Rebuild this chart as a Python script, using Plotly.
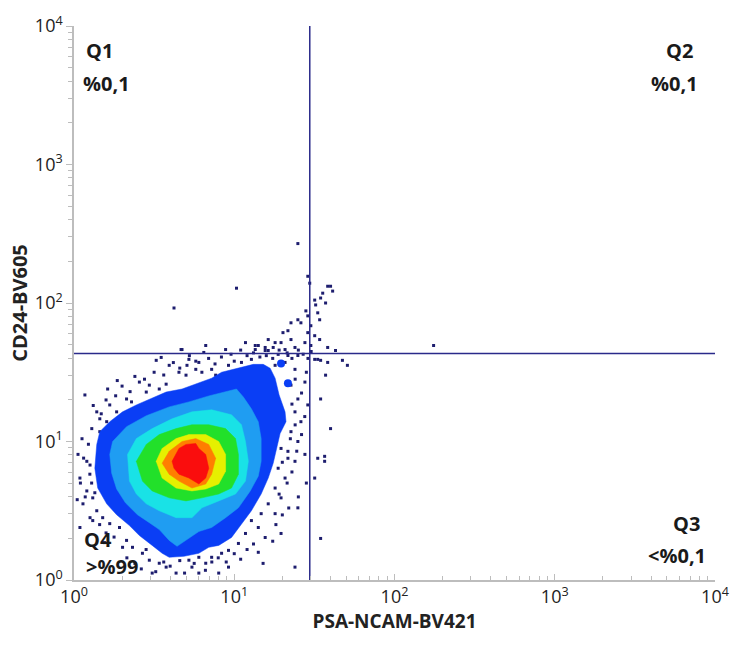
import plotly.graph_objects as go

# ---- Data (values given as log10 exponents of intensity) ----
# Density contour levels (outer -> inner), x = PSA-NCAM-BV421, y = CD24-BV605
lvl1_lx = [0.142,0.161,0.223,0.303,0.389,0.470,0.575,0.674,0.760,0.859,0.921,1.026,1.119,1.181,1.224,1.255,1.280,1.317,1.323,1.286,1.261,1.243,1.212,1.168,1.107,1.045,0.983,0.903,0.841,0.779,0.686,0.594,0.550,0.488,0.408,0.346,0.266,0.204,0.148,0.130]
lvl1_ly = [0.979,1.071,1.143,1.214,1.264,1.307,1.357,1.379,1.414,1.457,1.500,1.529,1.557,1.557,1.529,1.457,1.336,1.214,1.143,1.057,0.929,0.843,0.736,0.621,0.500,0.407,0.307,0.250,0.236,0.193,0.171,0.164,0.193,0.250,0.321,0.393,0.471,0.550,0.664,0.807]

lvl2_lx = [0.223,0.241,0.328,0.451,0.594,0.717,0.841,0.964,1.014,1.057,1.107,1.150,1.168,1.168,1.150,1.100,1.026,0.946,0.859,0.779,0.699,0.643,0.594,0.532,0.470,0.396,0.321,0.266,0.235]
lvl2_ly = [0.907,1.000,1.107,1.186,1.250,1.286,1.329,1.364,1.379,1.321,1.236,1.143,1.021,0.857,0.750,0.643,0.521,0.450,0.379,0.350,0.286,0.243,0.286,0.364,0.414,0.471,0.557,0.657,0.771]

lvl3_lx = [0.334,0.389,0.488,0.612,0.736,0.859,0.983,1.045,1.070,1.088,1.070,1.008,0.903,0.798,0.736,0.637,0.532,0.451,0.389,0.346]
lvl3_ly = [0.907,1.021,1.093,1.164,1.214,1.229,1.193,1.121,1.000,0.857,0.714,0.621,0.571,0.521,0.450,0.450,0.500,0.550,0.621,0.714]

lvl4_lx = [0.389,0.451,0.532,0.637,0.736,0.841,0.946,1.008,1.026,1.026,0.983,0.903,0.798,0.699,0.594,0.488,0.427]
lvl4_ly = [0.857,0.979,1.050,1.093,1.121,1.121,1.093,1.021,0.907,0.764,0.664,0.621,0.593,0.571,0.593,0.643,0.714]

lvl5_lx = [0.513,0.550,0.637,0.717,0.822,0.903,0.946,0.946,0.903,0.822,0.736,0.637,0.550]
lvl5_ly = [0.857,0.950,1.021,1.050,1.050,1.000,0.907,0.786,0.693,0.657,0.643,0.664,0.736]

lvl6_lx = [0.550,0.594,0.674,0.760,0.841,0.884,0.859,0.822,0.736,0.655,0.594]
lvl6_ly = [0.843,0.929,1.000,1.021,0.979,0.879,0.764,0.693,0.664,0.714,0.764]

lvl7_lx = [0.612,0.655,0.699,0.760,0.779,0.822,0.841,0.822,0.779,0.717,0.655,0.624]
lvl7_ly = [0.857,0.950,0.979,0.986,0.950,0.907,0.807,0.736,0.693,0.736,0.764,0.807]

level_colors = ["#0a3ef5", "#1f9df2", "#19e2e6", "#22e02a", "#e6f000", "#ff7e00", "#fa0d0d"]

# Small dense spots near the gate
spot_lx = [1.292, 1.335]
spot_ly = [1.564, 1.421]

# Sparse events (outside the density contours)
dot_lx = [1.459,1.471,1.583,1.601,1.552,1.614,1.539,1.570,1.502,1.508,1.447,1.459,1.521,1.533,1.397,1.354,1.416,1.478,
          1.304,1.335,1.459,1.502,1.533,1.212,1.255,1.292,1.354,1.441,1.478,1.150,1.131,1.193,1.243,1.317,1.379,1.583,
          1.632,1.675,1.706,1.502,1.539,1.583,1.570,1.335,1.274,1.212,1.397,
          0.668,0.810,0.544,0.513,0.594,0.705,0.760,0.655,0.408,0.470,0.532,0.575,0.328,0.359,0.223,0.266,0.161,0.204,
          0.068,0.111,0.161,0.142,0.210,0.451,
          0.674,0.822,0.946,1.070,1.131,1.193,0.717,0.779,0.859,0.964,1.045,1.107,0.699,0.798,0.884,1.255,1.317,1.379,
          1.354,1.397,1.379,1.416,1.354,1.397,1.335,1.379,1.441,1.521,1.539,1.564,1.441,1.459,
          1.292,1.335,1.274,1.317,1.255,1.292,1.212,1.255,1.168,1.150,1.107,1.070,1.193,1.292,1.026,0.964,0.921,0.859,
          0.822,0.964,0.903,0.736,0.779,1.379,1.397,1.502,1.521,1.564,1.539,
          0.025,0.080,0.099,0.037,0.080,0.117,0.056,0.142,0.179,0.223,0.284,0.328,0.303,0.365,0.427,0.470,0.532,0.575,
          0.717,0.779,0.488,0.637,0.117,0.037,
          0.624,1.014,2.244,1.397,1.601,
          0.30,0.38,0.44,0.50,0.56,0.62,0.66,0.72,0.76,0.84,0.88,0.92,0.98,1.00,1.04,1.08,1.12,1.16,1.20,1.24,1.28,1.33,
          1.36,1.40,1.43,1.46,1.48,0.26,0.20,0.12,0.17,0.35,0.27,
          0.05,0.09,0.06,0.10,0.04,0.11,0.07,0.13,0.02,0.10,0.16,0.20,0.25,0.19,
          0.33,0.38,0.42,0.45,0.51,0.56,0.60,0.66,0.69,0.75,0.82,0.86,0.90,0.95,1.00,1.04,1.08,1.12,1.15,
          1.26,1.30,1.34,1.28,1.33,1.36,1.30,1.39,1.35,1.42,1.38,1.44,1.36,1.42,1.38,1.45,1.40,1.45,1.24,1.18]
dot_ly = [2.193,2.143,2.121,2.121,2.071,2.086,2.036,2.000,2.021,1.986,1.943,1.907,1.929,1.879,1.879,1.857,1.857,1.836,
          1.786,1.800,1.786,1.764,1.736,1.736,1.714,1.714,1.736,1.714,1.693,1.693,1.664,1.679,1.679,1.664,1.679,1.679,
          1.657,1.586,1.550,1.593,1.586,1.571,1.479,1.621,1.629,1.657,1.621,
          1.664,1.643,1.607,1.586,1.550,1.550,1.521,1.500,1.429,1.407,1.379,1.414,1.307,1.286,1.264,1.214,1.164,1.143,
          1.336,1.093,1.071,1.214,1.379,1.357,
          1.664,1.693,1.664,1.714,1.693,1.657,1.593,1.571,1.521,1.550,1.571,1.593,1.479,1.500,1.479,1.550,1.571,1.521,
          1.407,1.307,1.214,1.143,1.071,1.000,0.929,0.857,0.907,1.593,1.307,0.857,1.429,1.264,
          0.950,0.879,0.807,0.736,0.664,0.593,0.550,0.479,0.479,0.379,0.429,0.336,0.307,0.336,0.264,0.214,0.193,0.164,
          0.121,0.093,0.050,0.093,0.050,0.093,0.521,0.736,0.879,0.893,0.300,
          0.907,0.857,0.764,0.736,0.643,0.593,0.550,0.500,0.450,0.407,0.379,0.286,0.236,0.236,0.193,0.143,0.121,0.093,
          0.143,0.164,0.050,0.050,0.429,0.379,
          1.964,2.107,1.693,2.429,1.093,
          1.40,1.47,1.45,1.50,1.48,1.57,1.53,1.62,1.58,1.60,1.56,1.61,1.63,1.58,1.66,1.62,1.64,1.61,1.62,1.60,1.66,1.64,
          1.60,1.66,1.63,1.60,1.65,1.33,1.30,1.26,1.20,1.36,1.44,
          1.02,0.98,0.88,0.83,0.70,0.70,0.60,0.63,0.58,0.45,0.40,0.34,0.31,0.27,
          0.16,0.12,0.08,0.22,0.06,0.13,0.10,0.14,0.05,0.12,0.07,0.13,0.16,0.13,0.19,0.15,0.22,0.26,0.20,
          0.40,0.47,0.52,0.62,0.70,0.78,0.85,0.93,1.02,1.05,1.12,1.18,1.27,1.35,1.45,1.50,0.60,0.70,0.28,0.12]

# Quadrant gate thresholds
gate_x = 29.6
gate_y = 43.2

# Axes
axis_range_exp = [0, 4]
decade_vals = [1, 10, 100, 1000, 10000]
decade_text = ["10<sup>0</sup>", "10<sup>1</sup>", "10<sup>2</sup>", "10<sup>3</sup>", "10<sup>4</sup>"]
minor_vals = [m * 10 ** d for d in range(4) for m in range(2, 10)]

quad_titles = ["Q1", "Q2", "Q3", "Q4"]
quad_pcts = ["%0,1", "%0,1", "<%0,1", ">%99"]

x_title = "PSA-NCAM-BV421"
y_title = "CD24-BV605"

# ---- Figure ----
def pw(a):
    return [10 ** v for v in a]

fig = go.Figure()

fig.add_trace(go.Scatter(x=pw(dot_lx), y=pw(dot_ly), mode="markers",
                         marker=dict(symbol="square", size=3, color="#1d1d6e", line=dict(width=0)),
                         hoverinfo="skip", showlegend=False))

levels = [(lvl1_lx, lvl1_ly), (lvl2_lx, lvl2_ly), (lvl3_lx, lvl3_ly), (lvl4_lx, lvl4_ly),
          (lvl5_lx, lvl5_ly), (lvl6_lx, lvl6_ly), (lvl7_lx, lvl7_ly)]
for (lx, ly), col in zip(levels, level_colors):
    fig.add_trace(go.Scatter(x=pw(lx + lx[:1]), y=pw(ly + ly[:1]), mode="lines", fill="toself",
                             fillcolor=col, line=dict(width=0.5, color=col),
                             hoverinfo="skip", showlegend=False))

fig.add_trace(go.Scatter(x=pw(spot_lx), y=pw(spot_ly), mode="markers",
                         marker=dict(symbol="circle", size=8, color=level_colors[0], line=dict(width=0)),
                         hoverinfo="skip", showlegend=False))

line_col = "#2a2a8a"
fig.add_trace(go.Scatter(x=[decade_vals[0], decade_vals[-1]], y=[gate_y, gate_y], mode="lines",
                         line=dict(color=line_col, width=1.5), hoverinfo="skip", showlegend=False))
fig.add_trace(go.Scatter(x=[gate_x, gate_x], y=[decade_vals[0], decade_vals[-1]], mode="lines",
                         line=dict(color=line_col, width=1.5), hoverinfo="skip", showlegend=False))

tick_font = dict(family="Open Sans, DejaVu Sans, sans-serif", size=18, color="#222")
common = dict(type="log", range=axis_range_exp, tickmode="array", tickvals=decade_vals, ticktext=decade_text,
              showgrid=False, zeroline=False, showline=True, linecolor="#bdbdbd", linewidth=1.5,
              tickcolor="#bdbdbd", ticklen=6, tickfont=tick_font)

fig.update_xaxes(**common, ticks="inside",
                 minor=dict(tickmode="array", tickvals=minor_vals, ticks="inside", ticklen=4, tickcolor="#bdbdbd"),
                 title=dict(text="<b>" + x_title + "</b>", font=dict(family="Open Sans, sans-serif", size=19, color="#222"),
                            standoff=4))
fig.update_yaxes(**common, ticks="outside",
                 minor=dict(tickmode="array", tickvals=minor_vals, ticks="outside", ticklen=4, tickcolor="#bdbdbd"),
                 title=dict(text="<b>" + y_title + "</b>", font=dict(family="Open Sans, sans-serif", size=20, color="#222"),
                            standoff=2))

qfont = dict(family="Open Sans, DejaVu Sans, sans-serif", size=20, color="#1a1a1a")
q_pos = [((0.040, 0.955), (0.051, 0.896)),
         ((0.944, 0.955), (0.937, 0.896)),
         ((0.955, 0.102), (0.940, 0.045)),
         ((0.038, 0.073), (0.060, 0.024))]
for t, p, (a, b) in zip(quad_titles, quad_pcts, q_pos):
    fig.add_annotation(x=a[0], y=a[1], xref="paper", yref="paper", text="<b>" + t + "</b>",
                       showarrow=False, font=qfont, xanchor="center", yanchor="middle")
    fig.add_annotation(x=b[0], y=b[1], xref="paper", yref="paper", text="<b>" + p + "</b>",
                       showarrow=False, font=qfont, xanchor="center", yanchor="middle")

fig.update_layout(width=741, height=649, margin=dict(l=74, r=20, t=20, b=69),
                  paper_bgcolor="white", plot_bgcolor="white", showlegend=False)

fig.write_html("out.html")
